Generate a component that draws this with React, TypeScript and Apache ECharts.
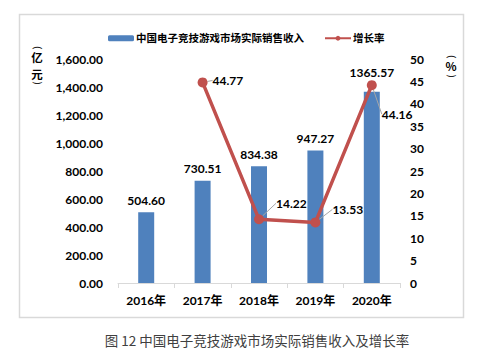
import React, { useEffect, useRef } from "react";
import * as echarts from "echarts";

const categories = ["2016年", "2017年", "2018年", "2019年", "2020年"];
const revenue = [504.6, 730.51, 834.38, 947.27, 1365.57];
const growth: (number | null)[] = [null, 44.77, 14.22, 13.53, 44.16];
const seriesNames = ["中国电子竞技游戏市场实际销售收入", "增长率"];
const chartTitle = "图 12 中国电子竞技游戏市场实际销售收入及增长率";

const FONT = "Lato, 'Noto Sans CJK SC', sans-serif";
const BLUE = "#4F81BD";
const RED = "#C0504D";

export default function App() {
  const ref = useRef<HTMLDivElement>(null);
  useEffect(() => {
    if (!ref.current) return;
    const chart = echarts.init(ref.current, undefined, { renderer: "svg" });
    const labelShifts: Record<number, [number, number]> = {
      1: [0, -2],
      2: [7, -16],
      3: [7, -13],
      4: [0, 29],
    };
    const bold = { fontFamily: FONT, fontWeight: "bold" as const, fontSize: 12, color: "#000" };
    const nameFont = "bold 11.5px 'Noto Sans CJK SC', sans-serif";
    const parenFont = "11px 'DejaVu Sans', sans-serif";
    const txt = (x: number, y: number, text: string, font: string) => ({
      type: "text",
      x,
      y,
      style: { text, font, fill: "#000", align: "center", verticalAlign: "middle" },
    });
    const paren = (x: number, y: number, text: string) => ({
      type: "group",
      x,
      y,
      rotation: -Math.PI / 2,
      children: [
        {
          type: "text",
          x: 0,
          y: 0,
          style: { text, font: parenFont, fill: "#222", align: "center", verticalAlign: "middle" },
        },
      ],
    });
    chart.setOption({
      animation: false,
      backgroundColor: "#fff",
      textStyle: { fontFamily: FONT },
      grid: { left: 118, right: 91, top: 59, bottom: 72, containLabel: false },
      legend: {
        left: 103,
        top: 28,
        itemWidth: 26,
        itemHeight: 6,
        itemGap: 20,
        textStyle: { ...bold, fontSize: 10.5, padding: [0, 0, 0, -3] },
        data: seriesNames,
      },
      xAxis: {
        type: "category",
        data: categories,
        axisLine: { lineStyle: { color: "#d9d9d9", width: 1 } },
        axisTick: { show: true, length: 5, lineStyle: { color: "#d9d9d9" } },
        axisLabel: { ...bold, margin: 11 },
      },
      yAxis: [
        {
          type: "value",
          min: 0,
          max: 1600,
          interval: 200,
          splitLine: { show: false },
          axisLine: { show: false },
          axisTick: { show: false },
          axisLabel: {
            ...bold,
            margin: 15,
            formatter: (v: number) =>
              v.toLocaleString("en-US", { minimumFractionDigits: 2, maximumFractionDigits: 2 }),
          },
        },
        {
          type: "value",
          min: 0,
          max: 50,
          interval: 5,
          splitLine: { show: false },
          axisLine: { show: false },
          axisTick: { show: false },
          axisLabel: { ...bold, margin: 10 },
        },
      ],
      series: [
        {
          name: seriesNames[0],
          type: "bar",
          barWidth: 16,
          yAxisIndex: 0,
          itemStyle: { color: BLUE },
          data: revenue.map((v, i) =>
            i === 4 ? { value: v, label: { distance: 13 } } : v
          ),
          label: {
            show: true,
            position: "top",
            distance: 6,
            ...bold,
            formatter: (p: any) => Number(p.value).toFixed(2),
          },
          z: 2,
        },
        {
          name: seriesNames[1],
          type: "line",
          yAxisIndex: 1,
          data: growth,
          connectNulls: false,
          symbol: "circle",
          symbolSize: 10,
          lineStyle: { color: RED, width: 3.5 },
          itemStyle: { color: RED },
          label: {
            show: true,
            position: "right",
            distance: 5,
            ...bold,
            formatter: (p: any) => Number(p.value).toFixed(2),
          },
          labelLine: { show: true, lineStyle: { color: "#a6a6a6", width: 1 } },
          labelLayout: (params: any) => {
            const s = labelShifts[params.dataIndex] || [0, 0];
            return { dx: s[0], dy: s[1] };
          },
          z: 3,
        },
      ],
      graphic: [
        {
          type: "rect",
          z: -10,
          silent: true,
          shape: { x: 19.5, y: 14.5, width: 444, height: 303 },
          style: { fill: "#fff", stroke: "#d9d9d9", lineWidth: 1.5 },
        },
        paren(37, 48, "("),
        txt(37, 57, "亿", nameFont),
        txt(37, 74, "元", nameFont),
        paren(37, 83, ")"),
        paren(451, 57, "("),
        txt(451, 66, "%", nameFont),
        paren(451, 76, ")"),
        {
          type: "text",
          x: 257,
          y: 340,
          style: {
            text: chartTitle,
            font: "13.5px 'Noto Sans CJK SC', sans-serif",
            fill: "#404040",
            align: "center",
            verticalAlign: "middle",
          },
        },
      ],
    });
    return () => chart.dispose();
  }, []);

  return (
    <div
      ref={ref}
      style={{ position: "absolute", left: 0, top: 0, width: 491, height: 355 }}
    />
  );
}
